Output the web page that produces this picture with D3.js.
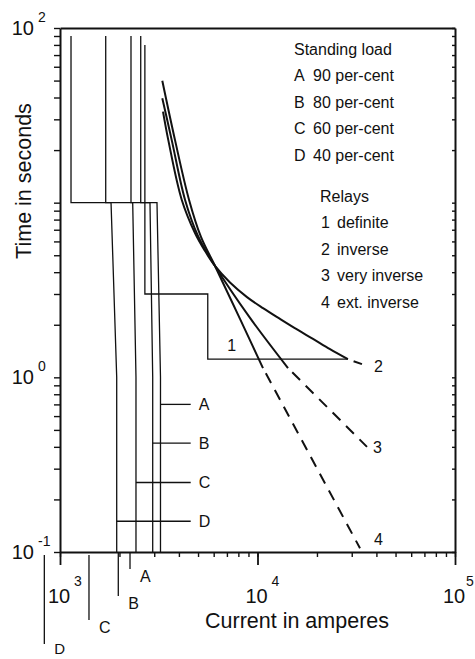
<!DOCTYPE html>
<html><head><meta charset="utf-8">
<script src="https://cdn.jsdelivr.net/npm/d3@7"></script>
<style>
body{margin:0;background:#fff}
svg{display:block;background:#fff}
text{font-family:"Liberation Sans",Arial,Helvetica,sans-serif;fill:#111}
</style>
</head><body>
<svg id="c" width="475" height="659"></svg>
<script>
// ---------------- data (current in A, time in s) ----------------
const loadNames = ["A", "B", "C", "D"];
const loadPercent = [90, 80, 60, 40];
const loadCurveA = [[2563, 90], [2563, 10], [3098, 10], [3227, 1], [3227, 0.1]];
const loadCurveB = [[2288, 90], [2288, 10], [2855, 10], [2947, 1], [2947, 0.1]];
const loadCurveC = [[1704, 90], [1704, 10], [2334, 10], [2425, 1], [2425, 0.1]];
const loadCurveD = [[1137, 90], [1137, 10], [1813, 10], [1937, 1], [1937, 0.1]];
const loadMarkTimes = [0.70, 0.42, 0.25, 0.15];
const loadMarkEndCurrent = 4590;
const belowAxisCurrents = [2262, 1973, 1402, 833];

const relayNames = ["definite", "inverse", "very inverse", "ext. inverse"];
const relay1 = [[2690, 80], [2690, 3.0], [5600, 3.0], [5600, 1.27], [28700, 1.27]];
const relay2Solid = [[3323, 33.2], [3535, 22.8], [4133, 10.4], [4825, 6.70], [5423, 5.29], [6093, 4.34],
  [7257, 3.49], [8848, 2.88], [10660, 2.49], [13000, 2.16], [15850, 1.88], [19100, 1.66], [23290, 1.45], [28700, 1.27]];
const relay2Dash = [[28700, 1.27], [33800, 1.19]];
const relay3Solid = [[3296, 39.6], [3679, 22.8], [4295, 10.4], [4996, 6.45], [6093, 4.34], [9164, 2.19], [14270, 1.13]];
const relay3Dash = [[14270, 1.13], [35840, 0.40]];
const relay4Solid = [[3296, 49.9], [3823, 22.8], [4500, 10.4], [5174, 6.36], [6093, 4.34], [8154, 2.16], [10660, 1.13]];
const relay4Dash = [[10660, 1.13], [33040, 0.105]];

const xTickValues = [1e3, 1e4, 1e5];
const xTickExps = ["3", "4", "5"];
const yTickValues = [0.1, 1, 100];
const yTickExps = ["-1", "0", "2"];
const xTitle = "Current in amperes";
const yTitle = "Time in seconds";

// ---------------- layout ----------------
const svg = d3.select("#c");
const L = 60, R = 455, T = 28, B = 552;
const x = d3.scaleLog().domain([1e3, 1e5]).range([L, R]);
const y = d3.scaleLog().domain([0.1, 100]).range([B, T]);
const ink = "#111";

function minorTicks(lo, hi) {
  const out = [];
  for (let d = lo; d < hi; d *= 10) for (let k = 1; k <= 9; k++) out.push(d * k);
  out.push(hi);
  return out;
}
const xAll = minorTicks(1e3, 1e5);
const yAll = minorTicks(0.1, 100);

function styleAxis(g, w) {
  g.selectAll("path.domain").attr("stroke", ink).attr("stroke-width", w);
  g.selectAll(".tick line").attr("stroke", ink).attr("stroke-width", 1.4);
  g.selectAll(".tick text").remove();
}
// left
svg.append("g").attr("transform", `translate(${L},0)`)
  .call(d3.axisLeft(y).tickValues(yAll).tickSize(6).tickSizeOuter(0).tickFormat(""))
  .call(g => styleAxis(g, 2));
// right (inward small ticks)
svg.append("g").attr("transform", `translate(${R},0)`)
  .call(d3.axisLeft(y).tickValues(yAll).tickSize(3).tickSizeOuter(0).tickFormat(""))
  .call(g => styleAxis(g, 2));
// top
svg.append("g").attr("transform", `translate(0,${T})`)
  .call(d3.axisTop(x).tickValues([]).tickSizeOuter(0))
  .call(g => styleAxis(g, 2));
// bottom
svg.append("g").attr("transform", `translate(0,${B})`)
  .call(d3.axisBottom(x).tickValues(xAll).tickSize(5).tickSizeOuter(0).tickFormat(""))
  .call(g => styleAxis(g, 2));
svg.append("g").attr("transform", `translate(0,${B})`)
  .call(d3.axisBottom(x).tickValues(xTickValues).tickSize(13).tickSizeOuter(0).tickFormat(""))
  .call(g => { styleAxis(g, 0); g.select("path.domain").remove(); g.selectAll(".tick line").attr("stroke-width", 1.8); });

// tick labels with superscripts
xTickValues.forEach((v, i) => {
  const px = x(v);
  svg.append("text").attr("x", px - 1).attr("y", 603).attr("text-anchor", "middle")
    .attr("font-size", 20).text("10");
  svg.append("text").attr("x", Math.min(px + 14, 466)).attr("y", 586).attr("font-size", 14).text(xTickExps[i]);
});
yTickValues.forEach((v, i) => {
  const py = y(v);
  svg.append("text").attr("x", 34).attr("y", py + 7).attr("text-anchor", "end")
    .attr("font-size", 20).text("10");
  svg.append("text").attr("x", 38).attr("y", py - 6).attr("font-size", 14).text(yTickExps[i]);
});

// axis titles
svg.append("text").attr("x", 297).attr("y", 628).attr("text-anchor", "middle")
  .attr("font-size", 21.5).text(xTitle);
svg.append("text").attr("transform", "translate(31,181) rotate(-90)")
  .attr("text-anchor", "middle").attr("font-size", 21.5).text(yTitle);

// ---------------- marks ----------------
const lineStep = d3.line().x(d => x(d[0])).y(d => y(d[1]));
const lineSmooth = d3.line().x(d => x(d[0])).y(d => y(d[1])).curve(d3.curveCatmullRom.alpha(0.5));

const loadCurves = [loadCurveA, loadCurveB, loadCurveC, loadCurveD];
loadCurves.forEach(c => {
  svg.append("path").attr("d", lineStep(c)).attr("fill", "none")
    .attr("stroke", ink).attr("stroke-width", 1.3);
});
// A-D time markers
loadCurves.forEach((c, i) => {
  const start = c[c.length - 1][0];
  const t = loadMarkTimes[i];
  svg.append("path").attr("d", lineStep([[start, t], [loadMarkEndCurrent, t]]))
    .attr("stroke", ink).attr("stroke-width", 1.3).attr("fill", "none");
  svg.append("text").attr("x", x(loadMarkEndCurrent) + 8).attr("y", y(t) + 6)
    .attr("font-size", 16).text(loadNames[i]);
});
// lines hanging below the axis
const dropStart = [0, 0, 3, 3], dropLen = [17, 44, 68, 92];
belowAxisCurrents.forEach((v, i) => {
  const px = x(v), y0 = B + dropStart[i], y1 = B + dropLen[i];
  svg.append("line").attr("x1", px).attr("x2", px).attr("y1", y0).attr("y2", y1)
    .attr("stroke", ink).attr("stroke-width", 1.3);
  svg.append("text").attr("x", px + 10).attr("y", Math.min(y1 + 13, 654))
    .attr("font-size", i === 3 ? 15 : 16).text(loadNames[i]);
});

// relay 1 definite
svg.append("path").attr("d", lineStep(relay1)).attr("fill", "none")
  .attr("stroke", ink).attr("stroke-width", 1.3);
// relays 2-4
[[relay2Solid, relay2Dash], [relay3Solid, relay3Dash], [relay4Solid, relay4Dash]].forEach(([s, d]) => {
  svg.append("path").attr("d", lineSmooth(s)).attr("fill", "none")
    .attr("stroke", ink).attr("stroke-width", 2);
  svg.append("path").attr("d", lineStep(d)).attr("fill", "none")
    .attr("stroke", ink).attr("stroke-width", 2).attr("stroke-dasharray", "11,8")
    .attr("stroke-dashoffset", -6);
});
// curve number labels
svg.append("text").attr("x", x(7400)).attr("y", y(1.27) - 8).attr("text-anchor", "middle").attr("font-size", 16).text("1");
svg.append("text").attr("x", x(33800) + 12).attr("y", y(1.19) + 8).attr("font-size", 16).text("2");
svg.append("text").attr("x", x(35840) + 6).attr("y", y(0.40) + 6).attr("font-size", 16).text("3");
svg.append("text").attr("x", x(33040) + 14).attr("y", y(0.105) - 3).attr("font-size", 16).text("4");

// ---------------- legend ----------------
const lg = svg.append("g").attr("font-size", 16);
lg.append("text").attr("x", 294).attr("y", 55).attr("font-size", 16).text("Standing load");
loadNames.forEach((n, i) => {
  const yy = 81 + i * 26.5;
  lg.append("text").attr("x", 294).attr("y", yy).attr("font-size", 16).text(n);
  lg.append("text").attr("x", 313).attr("y", yy).attr("font-size", 16).text(loadPercent[i] + " per-cent");
});
lg.append("text").attr("x", 320).attr("y", 202).attr("font-size", 16).text("Relays");
relayNames.forEach((n, i) => {
  const yy = 228 + i * 26.7;
  lg.append("text").attr("x", 321).attr("y", yy).attr("font-size", 16).text(String(i + 1));
  lg.append("text").attr("x", 337).attr("y", yy).attr("font-size", 16).text(n);
});
</script>
</body></html>
